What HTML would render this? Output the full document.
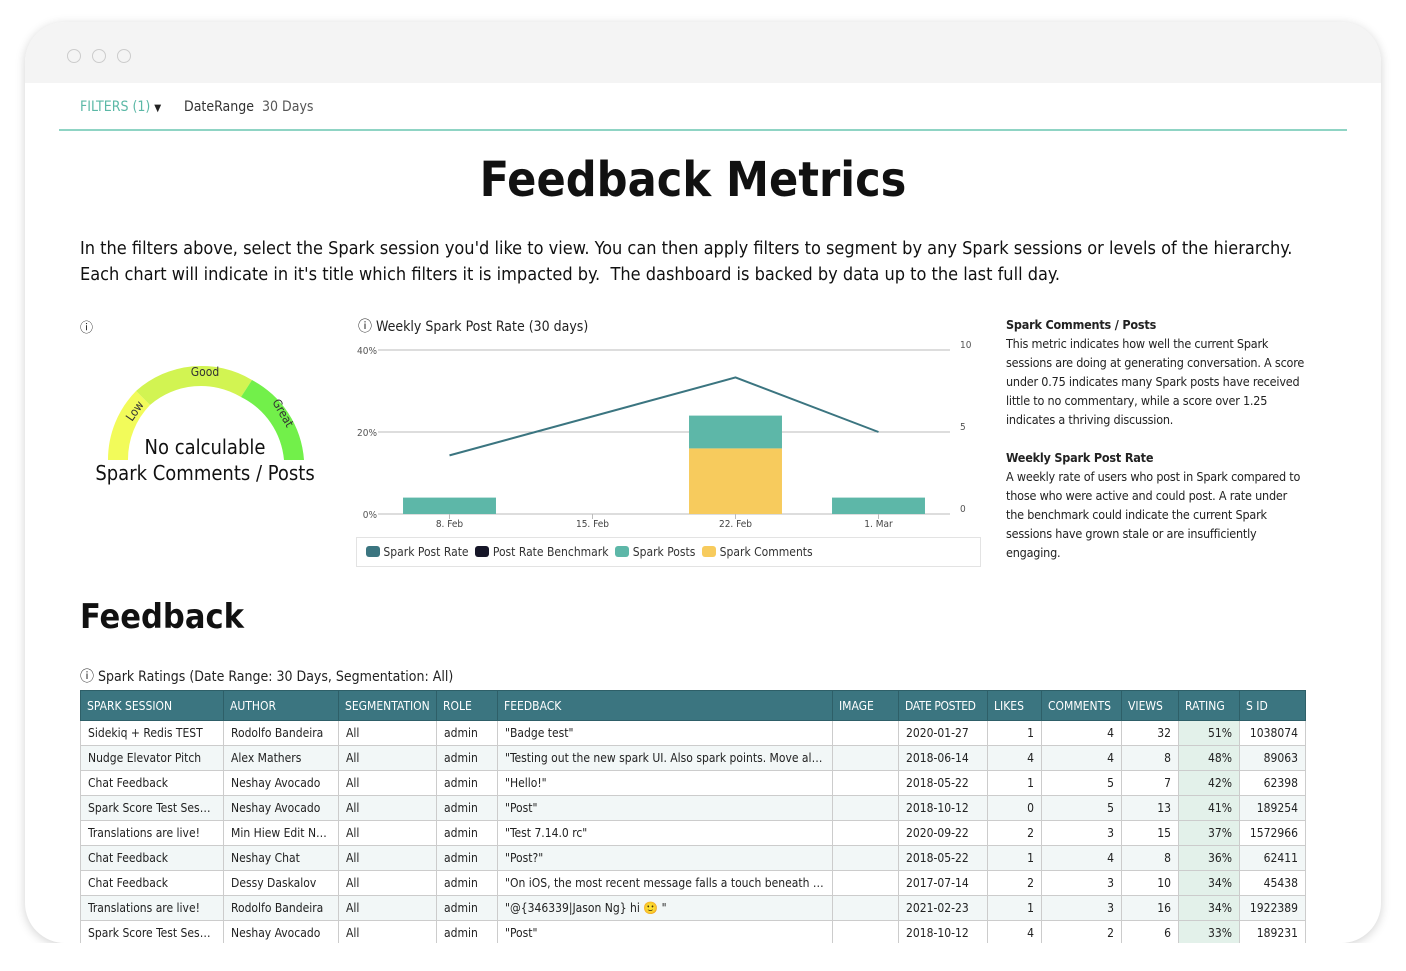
<!DOCTYPE html>
<html><head><meta charset="utf-8">
<style>
*{box-sizing:border-box;margin:0;padding:0}
body{width:1406px;height:971px;background:#fff;font-family:"DejaVu Sans Condensed","Liberation Sans",sans-serif;color:#222;overflow:hidden;position:relative}
.card{position:absolute;left:25px;top:22px;width:1356px;height:921px;border-radius:40px;background:#fff;box-shadow:0 2px 10px rgba(0,0,0,.18);overflow:hidden}
.bar{position:absolute;left:0;top:0;width:100%;height:61px;background:#f4f4f4}
.dot{position:absolute;top:27px;width:14px;height:14px;border:1.5px solid #ccc;border-radius:50%}
.abs{position:absolute}
table{position:absolute;left:80px;top:690px;border-collapse:collapse;font-size:12px;table-layout:fixed;width:1225px}
th{background:#3b7580;color:#fff;font-weight:normal;text-align:left;height:30px;padding:0 6px;border:1px solid #2e5f68;font-size:12px;white-space:nowrap;overflow:hidden}
td{height:25px;padding:0 7px;border:1px solid #ccc;white-space:nowrap;overflow:hidden;text-overflow:ellipsis;color:#222}
tr:nth-child(even) td{background:#f2f7f7}
td.r{text-align:right}
td.rt{background:#e3f1ea!important;text-align:right}
</style></head><body>
<div class="card">
<div class="bar">
<div class="dot" style="left:42px"></div>
<div class="dot" style="left:67px"></div>
<div class="dot" style="left:92px"></div>
</div>
</div>
<div class="abs" style="left:80px;top:99px;font-size:14px;color:#5bb8a6">FILTERS (1) <span style="color:#222;font-size:10px">&#9660;</span></div>
<div class="abs" style="left:184px;top:99px;font-size:14px;color:#333">DateRange &nbsp;<span style="color:#555">30 Days</span></div>
<div class="abs" style="left:59px;top:129px;width:1288px;height:2px;background:#8fd4c4"></div>
<div class="abs" style="left:0;width:1386px;top:152px;text-align:center;font-size:48px;font-weight:bold;color:#111">Feedback Metrics</div>
<div class="abs" style="left:80px;top:236px;font-size:18px;line-height:26px;color:#111;width:1260px">In the filters above, select the Spark session you'd like to view. You can then apply filters to segment by any Spark sessions or levels of the hierarchy.<br>Each chart will indicate in it's title which filters it is impacted by.&nbsp; The dashboard is backed by data up to the last full day.</div>
<div class="abs" style="left:80px;top:317px;font-size:13px">&#9432;</div>
<svg class="abs" style="left:90px;top:350px" width="240" height="140">
<path d="M18,110 A98,98 0 0 1 46,41 L60,55 A78,78 0 0 0 38,110 Z" fill="#f2fb5a"/>
<path d="M46,41 A98,98 0 0 1 162,30 L151,47 A78,78 0 0 0 60,55 Z" fill="#d2f452"/>
<path d="M162,30 A98,98 0 0 1 214,110 L194,110 A78,78 0 0 0 151,47 Z" fill="#72f04a"/>
<text x="115" y="26" font-size="12" text-anchor="middle" fill="#333">Good</text>
<text x="42" y="72" font-size="12" fill="#333" transform="rotate(-55 42 72)">Low</text>
<text x="182" y="52" font-size="12" fill="#333" transform="rotate(60 182 52)">Great</text>
</svg>
<div class="abs" style="left:80px;width:250px;top:434px;text-align:center;font-size:20px;line-height:26px;color:#111">No calculable<br>Spark Comments / Posts</div>
<div class="abs" style="left:358px;top:316px;font-size:14px">&#9432; Weekly Spark Post Rate (30 days)</div>
<svg id="chart" class="abs" style="left:340px;top:330px" width="660" height="250"></svg>
<div class="abs" style="left:356px;top:537px;width:625px;height:30px;border:1px solid #e3e3e3;font-size:12px;padding:7px 9px;color:#333">
<span><i style="display:inline-block;width:14px;height:11px;background:#3b7580;border-radius:3px;vertical-align:-1px"></i> Spark Post Rate</span>&nbsp;
<span><i style="display:inline-block;width:14px;height:11px;background:#161628;border-radius:3px;vertical-align:-1px"></i> Post Rate Benchmark</span>&nbsp;
<span><i style="display:inline-block;width:14px;height:11px;background:#5db7a8;border-radius:3px;vertical-align:-1px"></i> Spark Posts</span>&nbsp;
<span><i style="display:inline-block;width:14px;height:11px;background:#f7cb5d;border-radius:3px;vertical-align:-1px"></i> Spark Comments</span>
</div>
<div class="abs" style="left:1006px;top:315px;width:300px;font-size:12.5px;line-height:19px;color:#222;letter-spacing:-0.2px">
<b>Spark Comments / Posts</b><br>This metric indicates how well the current Spark sessions are doing at generating conversation. A score under 0.75 indicates many Spark posts have received little to no commentary, while a score over 1.25 indicates a thriving discussion.<br><br>
<b>Weekly Spark Post Rate</b><br>A weekly rate of users who post in Spark compared to those who were active and could post. A rate under the benchmark could indicate the current Spark sessions have grown stale or are insufficiently engaging.</div>
<div class="abs" style="left:80px;top:597px;font-size:34px;font-weight:bold;color:#111">Feedback</div>
<div class="abs" style="left:80px;top:666px;font-size:14px">&#9432; Spark Ratings (Date Range: 30 Days, Segmentation: All)</div>
<table>
<colgroup><col style="width:143px"><col style="width:115px"><col style="width:98px"><col style="width:61px"><col style="width:335px"><col style="width:66px"><col style="width:89px"><col style="width:54px"><col style="width:80px"><col style="width:57px"><col style="width:61px"><col style="width:66px"></colgroup>
<thead><tr><th>SPARK SESSION</th><th>AUTHOR</th><th>SEGMENTATION</th><th>ROLE</th><th>FEEDBACK</th><th>IMAGE</th><th style="letter-spacing:-0.4px">DATE POSTED</th><th>LIKES</th><th>COMMENTS</th><th>VIEWS</th><th>RATING</th><th>S ID</th></tr></thead>
<tbody id="tb"></tbody></table>
<div class="abs" style="left:0;top:943px;width:1406px;height:28px;background:#fff"></div>
<script>
const rows=[
["Sidekiq + Redis TEST","Rodolfo Bandeira","All","admin","\"Badge test\"","","2020-01-27",1,4,32,"51%",1038074],
["Nudge Elevator Pitch","Alex Mathers","All","admin","\"Testing out the new spark UI. Also spark points. Move along\"","","2018-06-14",4,4,8,"48%",89063],
["Chat Feedback","Neshay Avocado","All","admin","\"Hello!\"","","2018-05-22",1,5,7,"42%",62398],
["Spark Score Test Session","Neshay Avocado","All","admin","\"Post\"","","2018-10-12",0,5,13,"41%",189254],
["Translations are live!","Min Hiew Edit Name","All","admin","\"Test 7.14.0 rc\"","","2020-09-22",2,3,15,"37%",1572966],
["Chat Feedback","Neshay Chat","All","admin","\"Post?\"","","2018-05-22",1,4,8,"36%",62411],
["Chat Feedback","Dessy Daskalov","All","admin","\"On iOS, the most recent message falls a touch beneath the input\"","","2017-07-14",2,3,10,"34%",45438],
["Translations are live!","Rodolfo Bandeira","All","admin","\"@{346339|Jason Ng} hi 🙂 \"","","2021-02-23",1,3,16,"34%",1922389],
["Spark Score Test Session","Neshay Avocado","All","admin","\"Post\"","","2018-10-12",4,2,6,"33%",189231]];
const tb=document.getElementById('tb');
rows.forEach(r=>{const tr=document.createElement('tr');


r.forEach((v,i)=>{const td=document.createElement('td');td.textContent=v;
if(i>=7)td.className='r';if(i==10)td.className='rt';tr.appendChild(td);});tb.appendChild(tr);});

const categories=["8. Feb","15. Feb","22. Feb","1. Mar"];
const postRate=[14.3,null,33.3,20];
const sparkPosts=[1,0,2,1];
const sparkComments=[0,0,4,0];
const leftTicks=[0,20,40];
const rightTicks=[0,5,10];
const NS="http://www.w3.org/2000/svg";
const svg=document.getElementById('chart');
const L=38,R=610,T=20,B=184;
const yL=v=>B-(v/40)*(B-T);
const yR=v=>B-(v/10)*(B-T);
const bw=(R-L)/categories.length;
const xc=i=>L+bw*(i+0.5);
function mk(t,a){const e=document.createElementNS(NS,t);for(const k in a)e.setAttribute(k,a[k]);svg.appendChild(e);return e;}
leftTicks.forEach((t,i)=>{
 const g=mk('line',{x1:L,x2:R,y1:yL(t),y2:yL(t),stroke:'#bbb','stroke-width':1});
 
 
 const tx=mk('text',{x:L-1,y:yL(t)+4,'font-size':10,'text-anchor':'end',fill:'#555'});tx.textContent=t+'%';
 
 
});
rightTicks.forEach(t=>{
 const tx=mk('text',{x:R+10,y:yR(t)-2,'font-size':10,fill:'#555'});tx.textContent=t;
 
 
});
categories.forEach((c,i)=>{
 mk('line',{x1:xc(i),x2:xc(i),y1:B,y2:B+5,stroke:'#bbb'});
 const tx=mk('text',{x:xc(i),y:B+13,'font-size':10,'text-anchor':'middle',fill:'#444'});tx.textContent=c;
 
 
 const w=bw*0.65,x=xc(i)-w/2;
 if(sparkComments[i]>0){const b=mk('rect',{x:x,y:yR(sparkComments[i]),width:w,height:B-yR(sparkComments[i]),fill:'#f7cb5d'});
  
  }
 if(sparkPosts[i]>0){const base=sparkComments[i];const b=mk('rect',{x:x,y:yR(base+sparkPosts[i]),width:w,height:yR(base)-yR(base+sparkPosts[i]),fill:'#5db7a8'});
  
  }
});
const pts=postRate.map((v,i)=>v==null?null:[xc(i),yL(v)]).filter(p=>p);
const ln=mk('polyline',{points:pts.map(p=>p.join(',')).join(' '),fill:'none',stroke:'#3b7580','stroke-width':2});


</script>
</body></html>
